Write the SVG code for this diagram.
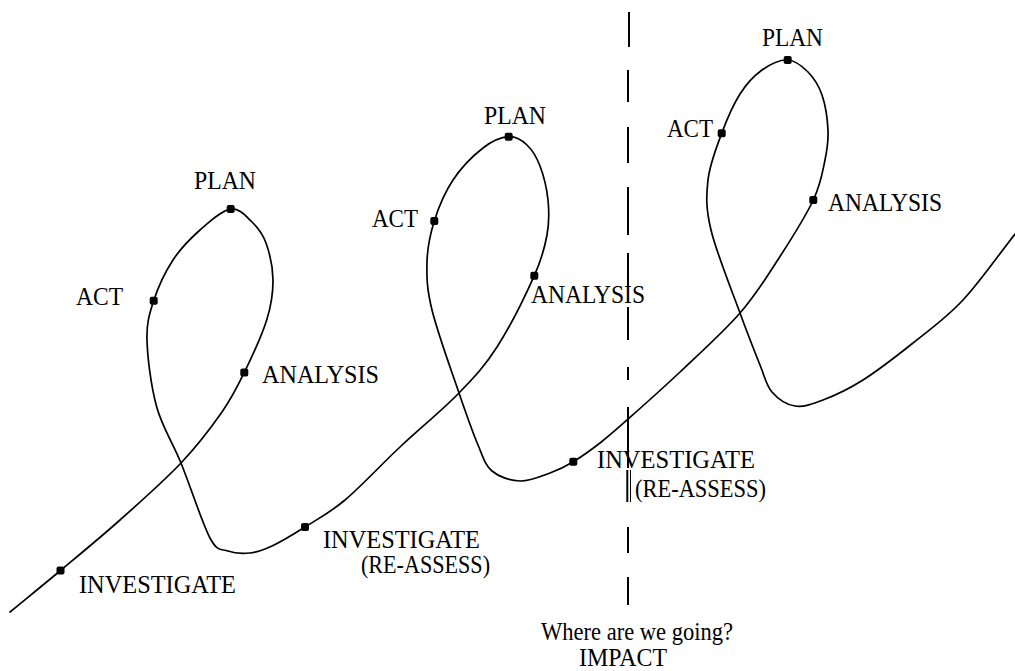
<svg xmlns="http://www.w3.org/2000/svg" width="1015" height="671" viewBox="0 0 1015 671">
  <style>
    .curve { fill: none; stroke: #000; stroke-width: 1.7; stroke-linejoin: round; stroke-linecap: round; }
    .dash { stroke: #000; stroke-width: 2; }
    .thin { stroke: #000; stroke-width: 1; }
    .dot { fill: #000; }
    .lbl { font-family: "Liberation Serif", "Times New Roman", serif; font-size: 25px; fill: #000; }
  </style>
  <defs>
    <rect id="pt" class="dot" x="-4" y="-4" width="8" height="8" rx="2"/>
  </defs>

  <rect width="1015" height="671" fill="#fff"/>

  <!-- spiral path and the vertical divider -->
  <g id="connectors">
    <path class="curve" d="M10,612 C26.8,598.2 42.2,585.8 60.5,570.5
      C78.8,555.2 99.9,537.9 120,520
      C140.1,502.1 164,481 181,463
      C198,445 211.45,427.1 222,412
      C232.55,396.9 236.85,387.8 244.3,372.5
      C251.75,357.2 261.9,335.4 266.7,320
      C271.5,304.6 273.1,292.8 273,280
      C272.9,267.2 269.5,252.7 266,243
      C262.5,233.3 257.9,227.7 252,222
      C246.1,216.3 239.4,207.7 230.7,209
      C222,210.3 209.6,221.5 200,230
      C190.4,238.5 180.7,248.2 173,260
      C165.3,271.8 158,287.4 153.7,300.7
      C149.4,314 146.5,322.3 147,340
      C147.5,357.7 151,386.5 156.7,407
      C162.4,427.5 172.1,441.2 181,463
      C189.9,484.8 202.2,523.3 210,538
      C217.8,552.7 221.3,548.5 228,551
      C234.7,553.5 242.7,553.8 250,553
      C257.3,552.2 262.8,550.3 272,546
      C281.2,541.7 292.8,534.7 305,527
      C317.2,519.3 329.2,513.3 345,500
      C360.8,486.7 381,464.8 400,447
      C419,429.2 442.8,409.7 459,393
      C475.2,376.3 484.45,366.55 497,347
      C509.55,327.45 526,294.4 534.3,275.7
      C542.6,257 544.7,247.6 547,235
      C549.3,222.4 549.2,211.5 548,200
      C546.8,188.5 543.5,175.2 540,166
      C536.5,156.8 532.2,149.9 527,145
      C521.8,140.1 516,136.2 508.7,136.7
      C501.4,137.2 492.3,140.8 483,148
      C473.7,155.2 461.1,167.8 453,180
      C444.9,192.2 438.6,207.3 434.3,221
      C430,234.7 427.4,247.2 427,262
      C426.6,276.8 426.7,288.2 432,310
      C437.3,331.8 451.3,370.5 459,393
      C466.7,415.5 472.5,432 478,445
      C483.5,458 485,465 492,471
      C499,477 510.3,480.7 520,481
      C529.7,481.3 541.1,476.2 550,473
      C558.9,469.8 565,466.7 573.3,461.7
      C581.6,456.7 591.05,449.95 600,443
      C608.95,436.05 613.7,431.8 627,420
      C640.3,408.2 661.2,389.8 680,372
      C698.8,354.2 723.5,332 740,313
      C756.5,294 766.8,276.8 779,258
      C791.2,239.2 805.6,216.3 813.3,200
      C821,183.7 822.55,171.7 825,160
      C827.45,148.3 828.5,140.8 828,130
      C827.5,119.2 825.3,104.7 822,95
      C818.7,85.3 813.7,77.8 808,72
      C802.3,66.2 795.4,60.3 787.7,60
      C780,59.7 769.950,64.3 762,70
      C754.05,75.7 746.7,83.45 740,94
      C733.3,104.55 727,119 721.7,133.3
      C716.4,147.6 709.8,163.9 708,180
      C706.2,196.1 705.7,207.8 711,230
      C716.3,252.2 731.8,290.5 740,313
      C748.2,335.5 754.7,351.8 760,365
      C765.3,378.2 766.2,385.2 772,392
      C777.8,398.8 786.5,404.7 795,406
      C803.5,407.3 811.7,404.3 823,400
      C834.3,395.7 848,389.5 863,380
      C878,370.5 896.3,356.3 913,343
      C929.7,329.7 946,318.2 963,300
      C980,281.8 997.7,256 1015,234"/>

    <g id="divider">
      <line class="dash" x1="629" y1="12" x2="629" y2="47"/>
      <line class="dash" x1="628" y1="70" x2="628" y2="102"/>
      <line class="dash" x1="628" y1="127" x2="628" y2="163"/>
      <line class="dash" x1="628" y1="187" x2="628" y2="235"/>
      <line class="dash" x1="628" y1="253" x2="628" y2="287"/>
      <line class="dash" x1="628" y1="307" x2="628" y2="340"/>
      <line class="dash" x1="628" y1="367" x2="628" y2="380"/>
      <line class="dash" x1="628" y1="407" x2="628" y2="468"/>
      <line class="dash" x1="627.3" y1="470" x2="627.3" y2="502"/>
      <line class="thin" x1="630.5" y1="470" x2="630.5" y2="502"/>
      <line class="dash" x1="628" y1="527" x2="628" y2="553"/>
      <line class="dash" x1="628" y1="577" x2="628" y2="605"/>
    </g>
  </g>

  <!-- first loop -->
  <g id="investigate-1">
    <use href="#pt" x="60.5" y="570.5"/>
    <text class="lbl" x="79" y="593" textLength="157" lengthAdjust="spacingAndGlyphs">INVESTIGATE</text>
  </g>
  <g id="analysis-1">
    <use href="#pt" x="244.3" y="372.5"/>
    <text class="lbl" x="262" y="383" textLength="117" lengthAdjust="spacingAndGlyphs">ANALYSIS</text>
  </g>
  <g id="plan-1">
    <use href="#pt" x="230.7" y="209"/>
    <text class="lbl" x="194" y="189" textLength="62" lengthAdjust="spacingAndGlyphs">PLAN</text>
  </g>
  <g id="act-1">
    <use href="#pt" x="153.7" y="300.7"/>
    <text class="lbl" x="76" y="305" textLength="47" lengthAdjust="spacingAndGlyphs">ACT</text>
  </g>

  <!-- second loop -->
  <g id="investigate-2">
    <use href="#pt" x="305" y="527"/>
    <text class="lbl" x="323" y="548" textLength="157" lengthAdjust="spacingAndGlyphs">INVESTIGATE</text>
    <text class="lbl" x="361" y="573" textLength="129" lengthAdjust="spacingAndGlyphs">(RE-ASSESS)</text>
  </g>
  <g id="analysis-2">
    <use href="#pt" x="534.3" y="275.7"/>
    <text class="lbl" x="531" y="303" textLength="114" lengthAdjust="spacingAndGlyphs">ANALYSIS</text>
  </g>
  <g id="plan-2">
    <use href="#pt" x="508.7" y="136.7"/>
    <text class="lbl" x="484" y="124" textLength="62" lengthAdjust="spacingAndGlyphs">PLAN</text>
  </g>
  <g id="act-2">
    <use href="#pt" x="434.3" y="221"/>
    <text class="lbl" x="372" y="227" textLength="46" lengthAdjust="spacingAndGlyphs">ACT</text>
  </g>

  <!-- third loop -->
  <g id="investigate-3">
    <use href="#pt" x="573.3" y="461.7"/>
    <text class="lbl" x="597" y="468" textLength="158" lengthAdjust="spacingAndGlyphs">INVESTIGATE</text>
    <text class="lbl" x="635" y="497" textLength="131" lengthAdjust="spacingAndGlyphs">(RE-ASSESS)</text>
  </g>
  <g id="analysis-3">
    <use href="#pt" x="813.3" y="200"/>
    <text class="lbl" x="828" y="211" textLength="114" lengthAdjust="spacingAndGlyphs">ANALYSIS</text>
  </g>
  <g id="plan-3">
    <use href="#pt" x="787.7" y="60"/>
    <text class="lbl" x="762" y="46" textLength="61" lengthAdjust="spacingAndGlyphs">PLAN</text>
  </g>
  <g id="act-3">
    <use href="#pt" x="721.7" y="133.3"/>
    <text class="lbl" x="667" y="137" textLength="46" lengthAdjust="spacingAndGlyphs">ACT</text>
  </g>

  <!-- caption under the divider -->
  <g id="impact">
    <text class="lbl" x="541" y="640" textLength="192" lengthAdjust="spacingAndGlyphs">Where are we going?</text>
    <text class="lbl" x="579" y="666" textLength="88" lengthAdjust="spacingAndGlyphs">IMPACT</text>
  </g>
</svg>
